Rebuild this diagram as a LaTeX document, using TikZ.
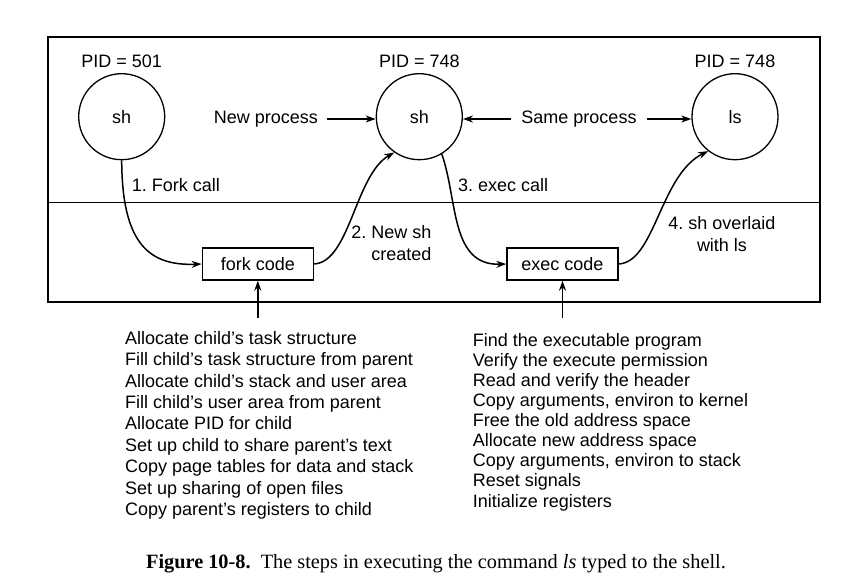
\documentclass[tikz,border=0pt]{standalone}
\usepackage{fontspec}
\setmainfont{Liberation Sans}
\newfontfamily\capfont{Liberation Serif}
\usetikzlibrary{arrows.meta,positioning}
\frenchspacing

\begin{document}
\begin{tikzpicture}[x=1pt,y=1pt,>={Stealth[length=10pt,width=7pt]},
		font=\fontsize{18}{22}\selectfont,
		proc/.style={circle,draw,line width=1.3pt,minimum size=86pt,inner sep=0pt},
		codebox/.style={draw,line width=1.4pt,minimum width=111pt,minimum height=32pt,inner sep=0pt},
		pid/.style={inner sep=0pt},
		lbl/.style={inner sep=0pt,align=center},
		flow/.style={->,line width=1.5pt},
		steps/.style={inner sep=0pt,align=left,anchor=north west}]

		\useasboundingbox (0,0) rectangle (852,587);

		% kernel / user boundary
		\draw[line width=1.4pt] (48,285) rectangle (820,550);
		\draw[line width=1.4pt] (48,384.3) -- (820,384.3);

		\node[proc] (sh1) at (121.7,470.3) {sh};
		\node[proc] (sh2) at (419.3,470.3) {sh};
		\node[proc] (ls)  at (735,470.3)   {ls};

		\node[pid] (pid1) [above=5.5pt of sh1] {PID = 501};
		\node[pid] (pid2) [above=5.5pt of sh2] {PID = 748};
		\node[pid] (pid3) [above=5.5pt of ls]  {PID = 748};

		\node[lbl,inner xsep=8.5pt] (newp) at (266,468) {New process};
		\node[lbl,inner xsep=10.5pt] (samep) at (579,468) {Same process};

		\node[codebox] (fork) at (257.8,323) {fork code};
		\node[codebox] (exec) at (562.5,323) {exec code};

		\draw[flow] (newp.east) -- (newp.east -| sh2.west);
		\draw[flow] (samep.west) -- (samep.west -| sh2.east);
		\draw[flow] (samep.east) -- (samep.east -| ls.west);

		% the four steps
		\draw[flow] (sh1.south) .. controls (122,342) and (150,321) .. (fork.west);
		\draw[flow] (fork.east) .. controls (350,325) and (355,412) .. (sh2.235);
		\draw[flow] (sh2.-59) .. controls (458,387) and (450,321) .. (exec.west);
		\draw[flow] (exec.east) .. controls (655,325) and (660,412) .. (ls.232);

		\node[lbl,anchor=west] (s1) at (131.7,402) {1. Fork call};
		\node[lbl,anchor=east,align=right] (s2) at (431.7,344) {2. New sh\\created};
		\node[lbl,anchor=west] (s3) at (458,402) {3. exec call};
		\node[lbl] (s4) at (722,353) {4. sh overlaid\\with ls};

		% what each piece of code does
		\coordinate (forkin) at (257.8,269);
		\coordinate (execin) at (562.5,269);
		\draw[flow] (forkin) -- (fork.south);
		\draw[flow] (execin) -- (exec.south);

		\node[steps,font=\fontsize{18}{21.4}\selectfont] (forksteps) at (125,256) {%
			Allocate child’s task structure\\
			Fill child’s task structure from parent\\
			Allocate child’s stack and user area\\
			Fill child’s user area from parent\\
			Allocate PID for child\\
			Set up child to share parent’s text\\
			Copy page tables for data and stack\\
			Set up sharing of open files\\
			Copy parent’s registers to child};
		\node[steps,font=\fontsize{18}{20.1}\selectfont] (execsteps) at (472.7,254) {%
			Find the executable program\\
			Verify the execute permission\\
			Read and verify the header\\
			Copy arguments, environ to kernel\\
			Free the old address space\\
			Allocate new address space\\
			Copy arguments, environ to stack\\
			Reset signals\\
			Initialize registers};

		\node[inner sep=0pt,anchor=base,font=\capfont\fontsize{20.3}{24}\selectfont] (cap) at (436,19)
			{\textbf{Figure 10-8.}\ \ The steps in executing the command \textit{ls} typed to the shell.};
\end{tikzpicture}
\end{document}
